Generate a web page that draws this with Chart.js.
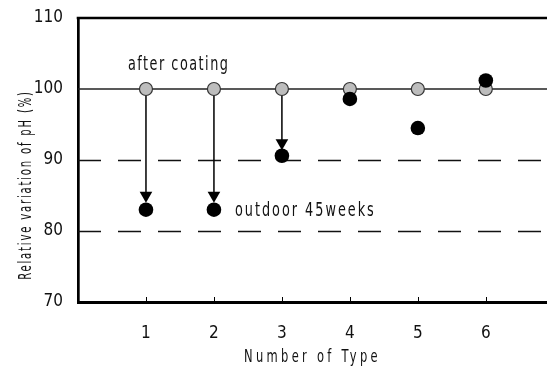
<!DOCTYPE html>
<html>
<head>
<meta charset="utf-8">
<script src="https://cdn.jsdelivr.net/npm/chart.js@4.4.0/dist/chart.umd.min.js"></script>
<style>
  html, body { margin: 0; padding: 0; background: #fff; }
  #wrap { width: 547px; height: 369px; }
</style>
</head>
<body>
<div id="wrap"><canvas id="myChart"></canvas></div>
<script>
// data
const types = [1, 2, 3, 4, 5, 6];
const afterCoating = [100, 100, 100, 100, 100, 100];
const outdoor45 = [83.0, 83.0, 90.6, 98.6, 94.5, 101.2];
const arrowTypes = [1, 2, 3];
const arrowHead = [85.0, 85.0, 92.4];   // centre of the arrow head
const yTicks = [70, 80, 90, 100, 110];
const dashedLevels = [80, 90];
const solidLevel = 100;

const FONT = '"DejaVu Sans Condensed", "Liberation Sans Narrow", "Roboto", sans-serif';

//narrow, spaced out text like the original plotter font
function drawText(ctx, txt, x, y, size, squeeze, spacing, align) {
    ctx.save();
    ctx.font = size + 'px ' + FONT;
    ctx.letterSpacing = (spacing / squeeze) + 'px';
    ctx.textBaseline = 'alphabetic';
    ctx.translate(x, y);
    ctx.scale(squeeze, 1);
    let w = ctx.measureText(txt).width;
    let start = align === 'center' ? -w / 2 : 0;
    ctx.fillText(txt, start, 0);
    ctx.restore();
}

//arrows from coated value down to outdoor value
let arrowSets = arrowTypes.map((t, i) => ({
    data: [{x: t, y: afterCoating[i]}, {x: t, y: arrowHead[i]}],
    showLine: true,
    borderColor: '#000',
    borderWidth: 1.5,
    pointRadius: [0, 7.3],
    pointStyle: 'triangle',
    rotation: 180,
    pointBackgroundColor: '#000',
    pointBorderColor: '#000',
    pointBorderWidth: 0,
    order: 3
}));

//reference lines, frame top, inner ticks and free text
const decor = {
    id: 'decor',
    beforeDatasetsDraw(chart) {
        const {ctx, chartArea: a, scales: {x, y}} = chart;
        ctx.save();
        ctx.strokeStyle = '#111';
        ctx.lineWidth = 1.3;
        ctx.setLineDash([23, 17]);
        dashedLevels.forEach(v => {
            let py = Math.round(y.getPixelForValue(v)) + 0.5;
            ctx.beginPath();
            ctx.moveTo(a.left, py);
            ctx.lineTo(a.right, py);
            ctx.stroke();
        });
        ctx.setLineDash([]);
        ctx.strokeStyle = '#222';
        ctx.lineWidth = 1.6;
        let p100 = y.getPixelForValue(solidLevel);
        ctx.beginPath();
        ctx.moveTo(a.left, p100);
        ctx.lineTo(a.right, p100);
        ctx.stroke();
        ctx.restore();
    },
    afterDraw(chart) {
        const {ctx, chartArea: a, scales: {x, y}} = chart;
        ctx.save();
        // top frame
        ctx.strokeStyle = '#000';
        ctx.lineWidth = 2.7;
        ctx.beginPath();
        ctx.moveTo(a.left - 1.3, a.top);
        ctx.lineTo(a.right, a.top);
        ctx.stroke();
        // small inward ticks
        ctx.lineWidth = 1;
        types.forEach(t => {
            let px = Math.round(x.getPixelForValue(t)) + 0.5;
            ctx.beginPath();
            ctx.moveTo(px, a.bottom);
            ctx.lineTo(px, a.bottom - 5);
            ctx.stroke();
        });
        ctx.fillStyle = '#111';
        drawText(ctx, 'after coating', x.getPixelForValue(1) - 18, y.getPixelForValue(102.7), 19, 0.75, 1.5, 'left');
        drawText(ctx, 'outdoor 45weeks', x.getPixelForValue(2) + 21, y.getPixelForValue(82.1), 19, 0.75, 2.0, 'left');
        drawText(ctx, 'Number of Type', (a.left + a.right) / 2, 362, 17, 0.75, 3.3, 'center');
        // y title
        ctx.translate(31, 185);
        ctx.rotate(-Math.PI / 2);
        drawText(ctx, 'Relative variation of pH (%)', 0, 0, 17, 0.66, 1.8, 'center');
        ctx.restore();
    }
};

let myChart = document.getElementById('myChart').getContext('2d');

let dataChart = new Chart(myChart, {
    type: 'scatter',
    data: {
        datasets: [{
            label: 'outdoor 45weeks',
            data: types.map((t, i) => ({x: t, y: outdoor45[i]})),
            pointRadius: 7.3,
            pointBackgroundColor: '#000',
            pointBorderColor: '#000',
            pointBorderWidth: 0,
            order: 1
        }, {
            label: 'after coating',
            data: types.map((t, i) => ({x: t, y: afterCoating[i]})),
            pointRadius: 6.5,
            pointBackgroundColor: '#bdbdbd',
            pointBorderColor: '#333',
            pointBorderWidth: 1.2,
            order: 2
        }].concat(arrowSets)
    },
    options: {
        responsive: true,
        maintainAspectRatio: false,
        animation: false,
        events: [],
        layout: {
            autoPadding: false,
            padding: {top: 18, right: 0, bottom: 0, left: 0}
        },
        plugins: {
            legend: {display: false},
            tooltip: {enabled: false}
        },
        scales: {
            x: {
                type: 'linear',
                min: 0,
                max: 6.9,
                afterBuildTicks: s => { s.ticks = types.map(v => ({value: v})); },
                afterFit: s => { s.height = 67; s.paddingLeft = 0; s.paddingRight = 0; },
                grid: {display: false, drawTicks: false},
                border: {display: true, color: '#000', width: 3},
                ticks: {
                    color: '#111',
                    padding: 21,
                    font: {family: FONT, size: 17},
                    maxRotation: 0
                }
            },
            y: {
                min: 70,
                max: 110,
                afterBuildTicks: s => { s.ticks = yTicks.map(v => ({value: v})); },
                afterFit: s => { s.width = 78; s.paddingTop = 0; s.paddingBottom = 0; },
                grid: {display: false, drawTicks: false},
                border: {display: true, color: '#000', width: 2.7},
                ticks: {
                    color: '#111',
                    padding: 15,
                    font: {family: FONT, size: 17}
                }
            }
        }
    },
    plugins: [decor]
});
</script>
</body>
</html>
